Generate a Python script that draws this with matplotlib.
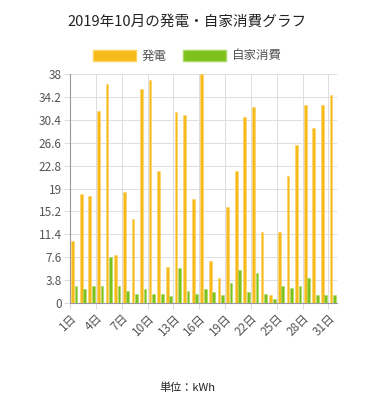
import matplotlib
matplotlib.use("Agg")
import matplotlib.pyplot as plt
import matplotlib.patches as mpatches
import numpy as np

plt.rcParams['font.family'] = ['Noto Sans CJK JP', 'DejaVu Sans']

# DATA
days = [f"{d}日" for d in range(1, 32)]
generation = [10.3, 18.1, 17.8, 31.9, 36.3, 8.0, 18.5, 13.9, 35.5, 37.0,
              21.9, 6.0, 31.7, 31.2, 17.2, 38.0, 6.9, 4.2, 15.9, 21.9,
              30.9, 32.6, 11.8, 1.3, 11.7, 21.0, 26.2, 32.8, 29.0, 32.8, 34.5]
self_use = [2.9, 2.4, 2.9, 2.9, 7.7, 2.9, 2.0, 1.5, 2.4, 1.5,
            1.5, 1.1, 5.8, 2.0, 1.5, 2.3, 1.8, 1.3, 3.4, 5.4,
            1.8, 4.9, 1.5, 0.6, 2.9, 2.5, 2.9, 4.2, 1.3, 1.3, 1.3]
y_ticks = [0, 3.8, 7.6, 11.4, 15.2, 19, 22.8, 26.6, 30.4, 34.2, 38]
y_tick_labels = ["0", "3.8", "7.6", "11.4", "15.2", "19", "22.8", "26.6", "30.4", "34.2", "38"]

orange = "#F7BA1C"
orange_edge = "#FFD260"
green = "#7CC11C"
green_edge = "#A6D862"

fig = plt.figure(figsize=(3.75, 4.0), dpi=100)
ax = fig.add_axes([0.1867, 0.2425, 0.712, 0.5725])

x = np.arange(len(days))
ax.bar(x + 0.3, generation, width=0.32, color=orange, edgecolor=orange_edge, linewidth=0.4, zorder=3)
ax.bar(x + 0.7, self_use, width=0.32, color=green, edgecolor=green_edge, linewidth=0.4, zorder=3)

ax.set_xlim(0, len(days))
ax.set_ylim(0, 38)
ax.set_yticks(y_ticks)
ax.set_yticklabels(y_tick_labels, fontsize=8.5, color="#555555")
ax.set_xticks(x[::3])
ax.set_xticklabels(days[::3], rotation=45, ha="right", va="top", fontsize=8.5,
                   color="#555555", rotation_mode="anchor")

ax.grid(True, color="#dddddd", linewidth=0.7, zorder=0)
for s in ["top", "right"]:
    ax.spines[s].set_visible(False)
for s in ["left", "bottom"]:
    ax.spines[s].set_color("#999999")
    ax.spines[s].set_linewidth(0.8)
ax.tick_params(axis="both", length=4, color="#dddddd", pad=2)

fig.text(0.5, 0.945, "2019年10月の発電・自家消費グラフ", ha="center", va="center",
         fontsize=10.5, color="#222222")

handles = [mpatches.Patch(facecolor=orange, edgecolor=orange_edge, label="発電"),
           mpatches.Patch(facecolor=green, edgecolor=green_edge, label="自家消費")]
fig.legend(handles=handles, loc="center", bbox_to_anchor=(0.5, 0.86), ncol=2,
           frameon=False, fontsize=9, handlelength=3.4, handleheight=1.0,
           handletextpad=0.5, columnspacing=1.3, labelcolor="#555555")

fig.text(0.5, 0.03, "単位：kWh", ha="center", va="center", fontsize=8, color="#222222")

fig.savefig("out.png", dpi=100, facecolor="white")
